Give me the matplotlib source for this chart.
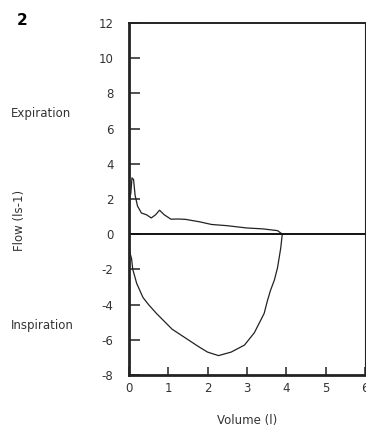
import matplotlib
matplotlib.use("Agg")
import matplotlib.pyplot as plt

plt.rcParams["axes.unicode_minus"] = False

# Expiration limb (volume l, flow l/s)
exp_vol = [0.0, 0.02, 0.05, 0.08, 0.12, 0.16, 0.22, 0.32, 0.45, 0.57, 0.68, 0.78, 0.9,
           1.07, 1.25, 1.44, 1.8, 2.1, 2.5, 3.0, 3.4, 3.78, 3.9]
exp_flow = [0.0, 2.1, 2.3, 3.2, 3.1, 2.2, 1.6, 1.2, 1.1, 0.92, 1.1, 1.36, 1.1,
            0.85, 0.86, 0.84, 0.7, 0.55, 0.48, 0.35, 0.3, 0.2, 0.0]

# Inspiration limb
insp_vol = [0.0, 0.02, 0.07, 0.1, 0.2, 0.28, 0.36, 0.5, 0.7, 1.1, 1.44, 1.78, 2.0, 2.28,
            2.6, 2.94, 3.19, 3.44, 3.52, 3.6, 3.7, 3.78, 3.86, 3.9]
insp_flow = [0.0, -1.0, -1.4, -2.0, -2.8, -3.2, -3.6, -4.0, -4.5, -5.4, -5.9, -6.4, -6.7, -6.9,
             -6.7, -6.3, -5.6, -4.5, -3.8, -3.2, -2.6, -1.9, -0.8, 0.0]

yticks = [-8, -6, -4, -2, 0, 2, 4, 6, 8, 10, 12]
xticks = [0, 1, 2, 3, 4, 5, 6]

tc = "#333333"
fig = plt.figure(figsize=(3.66, 4.32), dpi=100)
ax = fig.add_axes([0.352, 0.132, 0.645, 0.815])
ax.plot(exp_vol, exp_flow, color="#222222", lw=0.9)
ax.plot(insp_vol, insp_flow, color="#222222", lw=0.9)
ax.axhline(0, color="#111111", lw=1.4)
ax.set_xlim(0, 6)
ax.set_ylim(-8, 12)
ax.set_yticks(yticks)
ax.set_xticks(xticks)
ax.tick_params(axis="y", direction="in", length=8, width=1.2, pad=11,
               labelsize=8.5, colors=tc, labelcolor=tc)
ax.tick_params(axis="x", direction="in", length=6, width=1.2, pad=5,
               labelsize=8.5, colors=tc, labelcolor=tc)
for s, w in (("left", 2.0), ("bottom", 2.0), ("top", 1.4), ("right", 0.8)):
    ax.spines[s].set_linewidth(w)
    ax.spines[s].set_color("#222222")

ax.set_xlabel("Volume (l)", fontsize=8.5, color=tc, labelpad=14)
ax.set_ylabel("Flow (ls-1)", fontsize=8.5, color=tc, labelpad=0)
ax.yaxis.set_label_coords(-0.435, 0.44)

fig.text(0.03, 0.738, "Expiration", fontsize=8.5, color=tc, va="center")
fig.text(0.03, 0.247, "Inspiration", fontsize=8.5, color=tc, va="center")
fig.text(0.045, 0.952, "2", fontsize=11, fontweight="bold", color="black", va="center")

fig.savefig("out.png", dpi=100)
